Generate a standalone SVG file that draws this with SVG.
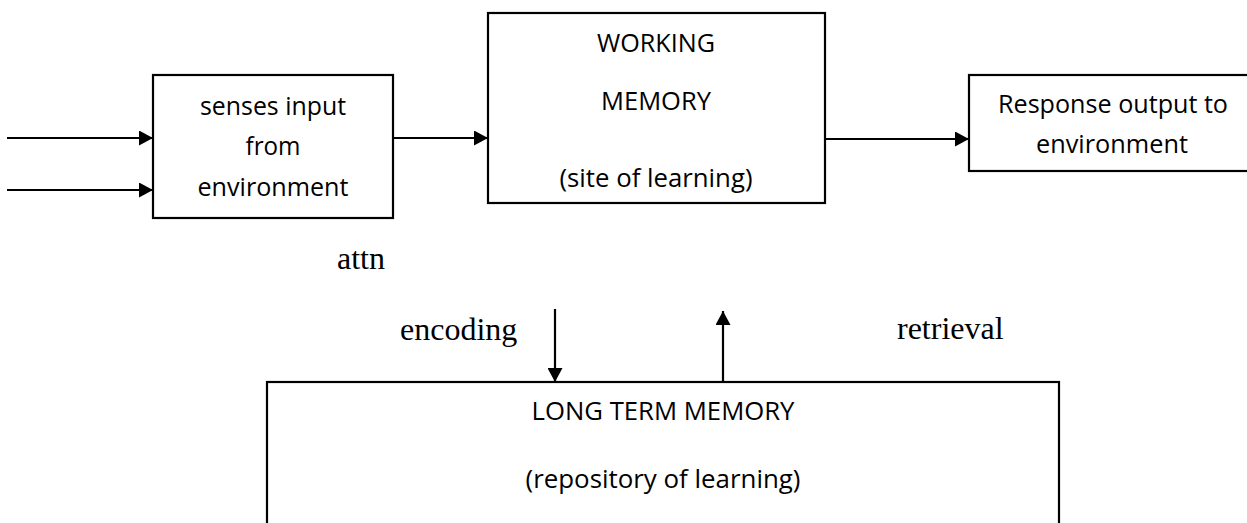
<svg xmlns="http://www.w3.org/2000/svg" width="1247" height="523" viewBox="0 0 1247 523">
<style>
.box{fill:#fff;stroke:#000;stroke-width:2.2}
.t{font-family:"Open Sans","Liberation Sans",sans-serif;font-size:26px;fill:#000;text-anchor:middle}
.s{font-family:"Liberation Serif","Times New Roman",serif;font-size:32px;fill:#000}
.c{stroke:#000;stroke-width:2.2;fill:none;marker-end:url(#ah)}
</style>
<defs>
<marker id="ah" markerUnits="userSpaceOnUse" markerWidth="15" markerHeight="15" refX="14" refY="7.5" orient="auto">
<path d="M0,0 L14,7.5 L0,15 Z" fill="#000"/>
</marker>
</defs>
<rect width="1247" height="523" fill="#fff"/>
<g id="senses">
<rect class="box" x="153" y="75" width="240" height="143"/>
<text class="t" x="273" y="115" textLength="146" lengthAdjust="spacingAndGlyphs">senses input</text>
<text class="t" x="273" y="155" textLength="55" lengthAdjust="spacingAndGlyphs">from</text>
<text class="t" x="273" y="196" textLength="151" lengthAdjust="spacingAndGlyphs">environment</text>
</g>
<g id="working-memory">
<rect class="box" x="488" y="13" width="337" height="190"/>
<text class="t" x="656" y="52" textLength="118" lengthAdjust="spacingAndGlyphs">WORKING</text>
<text class="t" x="656" y="110" textLength="110" lengthAdjust="spacingAndGlyphs">MEMORY</text>
<text class="t" x="656" y="187" textLength="193" lengthAdjust="spacingAndGlyphs">(site of learning)</text>
</g>
<g id="response">
<rect class="box" x="969" y="75" width="320" height="96"/>
<text class="t" x="1113" y="113" textLength="230" lengthAdjust="spacingAndGlyphs">Response output to</text>
<text class="t" x="1112" y="153" textLength="152" lengthAdjust="spacingAndGlyphs">environment</text>
</g>
<g id="long-term-memory">
<rect class="box" x="267" y="382" width="792" height="200"/>
<text class="t" x="663" y="420" textLength="263" lengthAdjust="spacingAndGlyphs">LONG TERM MEMORY</text>
<text class="t" x="663" y="488" textLength="275" lengthAdjust="spacingAndGlyphs">(repository of learning)</text>
</g>
<g id="labels">
<text class="s" x="337" y="269">attn</text>
<text class="s" x="400" y="340">encoding</text>
<text class="s" x="897" y="339">retrieval</text>
</g>
<g id="connectors">
<line class="c" x1="7" y1="138" x2="153" y2="138"/>
<line class="c" x1="7" y1="190" x2="153" y2="190"/>
<line class="c" x1="393" y1="138" x2="488" y2="138"/>
<line class="c" x1="825" y1="139" x2="969" y2="139"/>
<line class="c" x1="555" y1="309" x2="555" y2="382"/>
<line class="c" x1="723" y1="382" x2="723" y2="311"/>
</g>
</svg>
